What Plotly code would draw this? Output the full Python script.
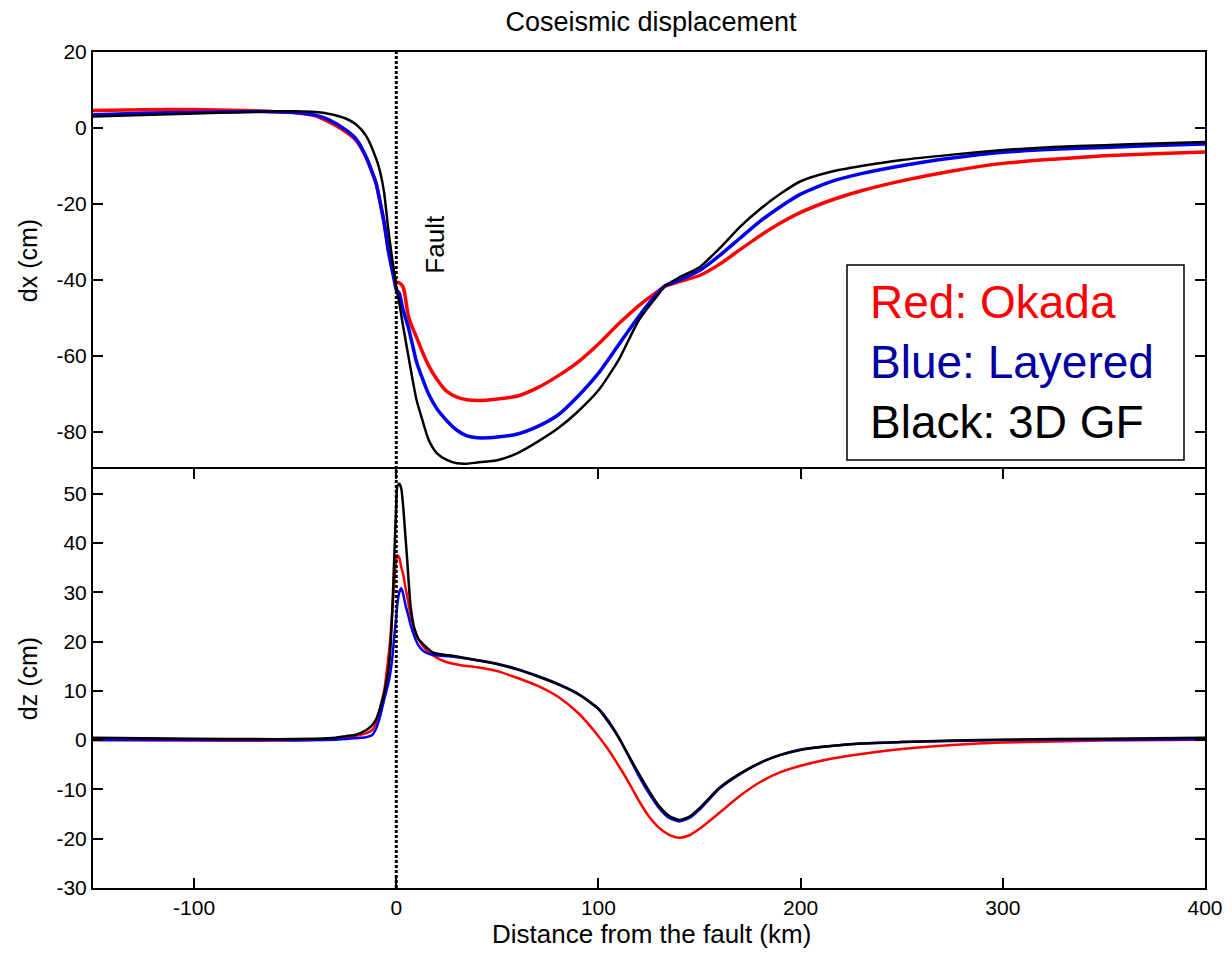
import plotly.graph_objects as go

# ---------------- data ----------------
x_top = [-150, -125, -100, -75, -60, -50, -40, -33, -25, -20, -15, -10, -8, -6, -4, -2, -1, 0,
         1.5, 3, 4, 6, 8, 10, 13, 16, 20, 25, 30, 35, 40, 50, 60, 70, 80, 90, 100, 110, 120,
         130, 133, 140, 150, 160, 170, 180, 190, 200, 215, 230, 250, 275, 300, 325, 350, 375, 400]

dx_okada = [4.6, 4.8, 4.9, 4.6, 4.3, 4.0, 3.2, 1.5, -1.0, -3.2, -7.7, -14.5, -19.5, -25, -32, -37, -39, -40.5,
            -40.8, -41.5, -43, -49.5, -52.5, -55, -59, -62.5, -66, -69.3, -70.8, -71.5, -71.7, -71.3, -70.5,
            -68.3, -65.2, -61.5, -56.8, -51.5, -46.7, -42.7, -41.6, -40.4, -38.8, -35.8, -32, -28.3, -25, -22.2,
            -19, -16.5, -13.9, -11.3, -9.3, -8.2, -7.3, -6.8, -6.3]

dx_layered = [3.5, 3.9, 4.1, 4.3, 4.3, 4.1, 3.4, 2.1, -0.5, -2.8, -7.5, -14.5, -19.5, -25, -32, -37.5, -40, -42.5,
              -43.5, -47, -49, -52.5, -57, -61.5, -66, -70, -73.8, -77, -79.5, -81, -81.5, -81.3, -80.5,
              -78.5, -75.5, -70.5, -64.5, -57, -49.5, -43, -41.5, -40, -37.5, -33.5, -29, -24.5, -20.7, -17.4,
              -14.1, -12, -9.9, -7.9, -6.4, -5.6, -5.1, -4.6, -4.2]

dx_3dgf = [3.0, 3.4, 3.8, 4.2, 4.4, 4.4, 4.2, 3.7, 2.5, 1.0, -2.0, -8.0, -11.5, -17, -26.5, -34.5, -38, -42,
           -46, -51, -54, -60, -66, -71.5, -77, -82, -85.5, -87.3, -88.2, -88.3, -88, -87.4, -85.5,
           -82.5, -79, -74.5, -69, -61, -50.5, -43.5, -41.5, -39.3, -36.6, -31.6, -26, -21.3, -17.3, -14,
           -11.5, -10, -8.4, -7, -5.8, -5, -4.5, -4.1, -3.7]

x_bot = [-150, -100, -60, -40, -30, -25, -20, -15, -12, -10, -8, -6, -4, -3, -2, -1, 0, 0.5, 1.5, 2.5,
         3.5, 4.5, 5.5, 7, 9, 11, 13, 15, 18, 22, 26, 32, 40, 50, 60, 70, 80, 90, 100, 105, 110, 115,
         120, 125, 130, 135, 140, 145, 150, 160, 170, 180, 190, 200, 215, 230, 250, 275, 300, 350, 400]

dz_okada = [0, -0.1, -0.1, 0, 0.3, 0.5, 0.9, 1.4, 2.0, 3.5, 6.5, 10, 16.5, 20.5, 26, 32, 36.5, 37.5, 37, 35,
            33.5, 31, 29, 25.5, 22.5, 20.5, 19.2, 18.2, 17.2, 16.3, 15.7, 15.2, 14.8, 14, 12.6, 11, 8.8, 5.5,
            0.8, -2.0, -5.2, -8.6, -12.3, -15.5, -17.8, -19.2, -19.8, -19.3, -18, -14.7, -11.3, -8.5, -6.5,
            -5.2, -3.8, -2.8, -1.8, -1.0, -0.5, -0.1, 0.1]

dz_layered = [0, 0, 0, 0, 0.1, 0.2, 0.4, 0.6, 1.0, 2.3, 4.8, 8.2, 11.4, 13.5, 16.5, 21, 25, 27.5, 30, 30.8,
              29.5, 27.5, 26, 23.5, 21, 19.2, 18.2, 17.7, 17.3, 17.1, 17.0, 16.7, 16.2, 15.5, 14.4, 13, 11.4, 9.4,
              6.4, 3.9, 0.6, -3.3, -7.3, -10.8, -13.8, -15.8, -16.5, -15.8, -14.1, -9.8, -6.9, -4.6, -3,
              -1.9, -1.2, -0.7, -0.4, -0.2, 0, 0.1, 0.2]

dz_3dgf = [0.5, 0.3, 0.2, 0.3, 0.5, 0.8, 1.1, 2.0, 3.0, 4.2, 6.5, 9.5, 14, 18, 26, 37, 48, 51.5, 52, 51,
           47, 41.5, 36, 27.5, 22.5, 20.5, 19.6, 18.8, 17.8, 17.4, 17.2, 16.8, 16.2, 15.4, 14.3, 12.9, 11.3, 9.3,
           6.3, 3.6, 0.5, -3.2, -6.8, -10.3, -13.4, -15.4, -16.2, -15.5, -13.8, -9.6, -6.8, -4.6, -3,
           -2, -1.2, -0.7, -0.4, -0.1, 0.1, 0.3, 0.5]

fault_x = 0
x_range = [-150, 400]
dx_range = [-89.7, 20]
dz_range = [-30, 55]
dx_ticks = [-80, -60, -40, -20, 0, 20]
dz_ticks = [-30, -20, -10, 0, 10, 20, 30, 40, 50]
x_ticks = [-100, 0, 100, 200, 300, 400]

for arr in (dx_okada, dx_layered, dx_3dgf):
    assert len(arr) == len(x_top), len(arr)
for arr in (dz_okada, dz_layered, dz_3dgf):
    assert len(arr) == len(x_bot), len(arr)

RED = "#FF0000"
BLUE = "#0000F0"
BLACK = "#000000"
FONT = "Arial, Liberation Sans, sans-serif"

# page body has an 8px margin; size the figure so it fits the 1232x957 window
W, H = 1216, 941
PAD = 8


def labels(vals):
    return [str(v) for v in vals]  # plain hyphen-minus, as in the original


fig = go.Figure()

SM = 0.6
# top panel (dx)
fig.add_trace(go.Scatter(x=x_top, y=dx_okada, mode="lines",
                         line=dict(color=RED, width=3.5, shape="spline", smoothing=SM),
                         xaxis="x", yaxis="y", name="Okada", showlegend=False))
fig.add_trace(go.Scatter(x=x_top, y=dx_layered, mode="lines",
                         line=dict(color=BLUE, width=3.5, shape="spline", smoothing=SM),
                         xaxis="x", yaxis="y", name="Layered", showlegend=False))
fig.add_trace(go.Scatter(x=x_top, y=dx_3dgf, mode="lines",
                         line=dict(color=BLACK, width=2.5, shape="spline", smoothing=SM),
                         xaxis="x", yaxis="y", name="3D GF", showlegend=False))
# bottom panel (dz)
fig.add_trace(go.Scatter(x=x_bot, y=dz_okada, mode="lines",
                         line=dict(color=RED, width=2.5, shape="spline", smoothing=SM),
                         xaxis="x2", yaxis="y2", name="Okada", showlegend=False))
fig.add_trace(go.Scatter(x=x_bot, y=dz_layered, mode="lines",
                         line=dict(color=BLUE, width=2.5, shape="spline", smoothing=SM),
                         xaxis="x2", yaxis="y2", name="Layered", showlegend=False))
fig.add_trace(go.Scatter(x=x_bot, y=dz_3dgf, mode="lines",
                         line=dict(color=BLACK, width=2.5, shape="spline", smoothing=SM),
                         xaxis="x2", yaxis="y2", name="3D GF", showlegend=False))
# fault line
fig.add_trace(go.Scatter(x=[fault_x, fault_x], y=dx_range, mode="lines",
                         line=dict(color=BLACK, width=3, dash="3px,2px"),
                         xaxis="x", yaxis="y", showlegend=False, hoverinfo="skip"))
fig.add_trace(go.Scatter(x=[fault_x, fault_x], y=dz_range, mode="lines",
                         line=dict(color=BLACK, width=3, dash="3px,2px"),
                         xaxis="x2", yaxis="y2", showlegend=False, hoverinfo="skip"))

split = 0.5012
axis_common = dict(showline=True, linecolor=BLACK, linewidth=2, showgrid=False, zeroline=False,
                   ticks="inside", ticklen=10, tickwidth=2, tickcolor=BLACK, automargin=False,
                   tickfont=dict(family=FONT, size=21, color=BLACK))

PW, PH = 1112, 836  # plot area size in px
fig.update_layout(
    width=W, height=H,
    margin=dict(l=93 - PAD, r=PAD + W - 1205, t=52 - PAD, b=PAD + H - 888, autoexpand=False),
    paper_bgcolor="white", plot_bgcolor="white",
    font=dict(family=FONT, color=BLACK),
    title=dict(text="Coseismic displacement", x=(651 - PAD) / W, xanchor="center", y=1,
               yanchor="top", yref="container", pad=dict(t=4),
               font=dict(family=FONT, size=27, color=BLACK)),
    xaxis=dict(domain=[0, 1], anchor="y", range=x_range, matches="x2", side="top", showline=True,
               linecolor=BLACK, linewidth=2, mirror=False, ticks="", showticklabels=False,
               showgrid=False, zeroline=False, automargin=False),
    yaxis=dict(domain=[split, 1], anchor="x", range=dx_range, tickvals=dx_ticks, ticktext=labels(dx_ticks),
               mirror="ticks",
               title=dict(text="dx (cm)", font=dict(family=FONT, size=25, color=BLACK), standoff=12),
               **axis_common),
    xaxis2=dict(domain=[0, 1], anchor="y2", range=x_range, tickvals=x_ticks, ticktext=labels(x_ticks),
                mirror="ticks", **axis_common),
    yaxis2=dict(domain=[0, split], anchor="x2", range=dz_range, tickvals=dz_ticks, ticktext=labels(dz_ticks),
                mirror="ticks",
                title=dict(text="dz (cm)", font=dict(family=FONT, size=25, color=BLACK), standoff=12),
                **axis_common),
)

# x-axis title (placed precisely, kept inside the figure)
fig.add_annotation(xref="paper", yref="paper", x=(651 - 93) / PW, y=(888 - 934) / PH,
                   xanchor="center", yanchor="middle", showarrow=False,
                   text="Distance from the fault (km)", font=dict(family=FONT, size=26, color=BLACK))

# Legend box
fig.add_shape(type="rect", xref="paper", yref="paper",
              x0=(847 - 93) / PW, x1=(1184 - 93) / PW,
              y0=(888 - 460) / PH, y1=(888 - 265) / PH,
              line=dict(color=BLACK, width=1.5), fillcolor="white", layer="above")
fig.add_annotation(xref="paper", yref="paper", x=(868 - 93) / PW, y=(888 - 362) / PH,
                   xanchor="left", yanchor="middle", align="left", showarrow=False,
                   text=("<span style='color:#FF0000'>Red: Okada</span><br>"
                         "<span style='color:#0000A0'>Blue: Layered</span><br>"
                         "<span style='color:#000000'>Black: 3D GF</span>"),
                   font=dict(family=FONT, size=46, color=BLACK))

# Fault label
fig.add_annotation(xref="x", yref="y", x=19, y=-30.5, text="Fault", textangle=-90, showarrow=False,
                   font=dict(family=FONT, size=26, color=BLACK))

fig.write_html("out.html")
